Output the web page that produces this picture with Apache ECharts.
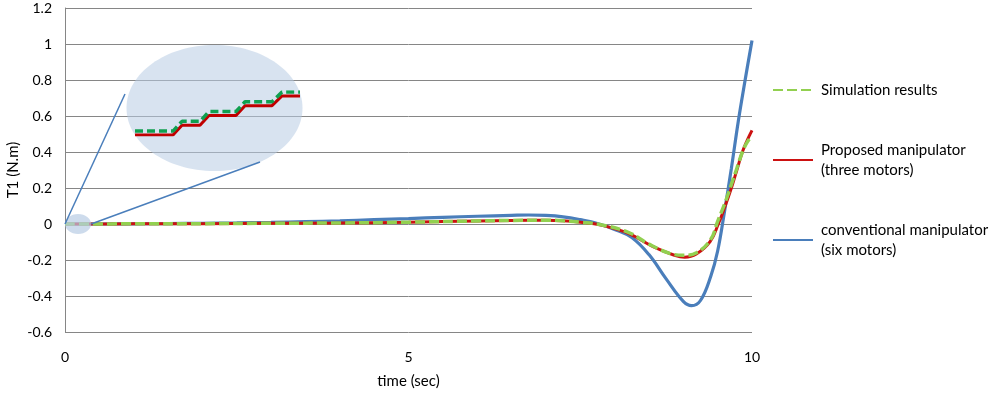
<!DOCTYPE html>
<html><head><meta charset="utf-8">
<script src="https://cdn.jsdelivr.net/npm/echarts@6/dist/echarts.min.js"></script>
<style>html,body{margin:0;padding:0;background:#fff}#c{width:1000px;height:393px}</style>
</head><body><div id="c"></div>
<script>
// ---- data ----
const xTicks = [0, 5, 10];
const yTicks = [-0.6, -0.4, -0.2, 0, 0.2, 0.4, 0.6, 0.8, 1, 1.2];
const seriesNames = ['Simulation results', 'Proposed manipulator (three motors)', 'conventional manipulator (six motors)'];

const blueX = [0, 0.5, 1, 1.5, 2, 2.5, 3, 3.5, 4, 4.5, 5, 5.5, 6, 6.5, 6.75, 7, 7.25, 7.5, 7.75, 8, 8.25, 8.5, 8.75, 9, 9.12, 9.25, 9.4, 9.5, 9.6, 9.7, 9.8, 9.9, 10];
const blueY = [0, 0, 0.001, 0.002, 0.004, 0.006, 0.009, 0.013, 0.018, 0.024, 0.030, 0.037, 0.043, 0.048, 0.050, 0.048, 0.040, 0.024, 0.003, -0.030, -0.075, -0.170, -0.305, -0.430, -0.454, -0.425, -0.29, -0.15, 0.07, 0.31, 0.57, 0.80, 1.02];

const redX = [0, 1, 2, 3, 4, 5, 6, 6.5, 7, 7.25, 7.5, 7.8, 8.2, 8.56, 8.86, 9.02, 9.19, 9.39, 9.51, 9.6, 9.7, 9.78, 9.86, 9.93, 10];
const redY = [0, 0.001, 0.002, 0.004, 0.006, 0.010, 0.017, 0.020, 0.021, 0.018, 0.010, -0.006, -0.052, -0.126, -0.172, -0.185, -0.167, -0.098, 0.0, 0.09, 0.20, 0.30, 0.40, 0.465, 0.52];

const greenX = [0, 1, 2, 3, 4, 5, 6, 6.5, 7, 7.25, 7.5, 7.8, 8.2, 8.5, 8.8, 9.0, 9.2, 9.4, 9.5, 9.6, 9.7, 9.78, 9.86, 9.93, 10];
const greenY = [0, 0.001, 0.002, 0.004, 0.006, 0.010, 0.017, 0.020, 0.021, 0.018, 0.010, -0.004, -0.046, -0.112, -0.163, -0.174, -0.158, -0.085, 0.015, 0.11, 0.22, 0.31, 0.40, 0.455, 0.49];

// inset (zoom) staircase, arbitrary units
const insetX = [0, 38, 47, 65, 74, 101, 110, 137, 147, 165];
const insetRed = [0, 0, 1, 1, 2, 2, 3, 3, 4, 4];
const insetGreen = [0.4, 0.4, 1.4, 1.4, 2.4, 2.4, 3.4, 3.4, 4.4, 4.4];

const zip = (xs, ys) => xs.map((x, i) => [x, ys[i]]);
const FONT = 'Lato';

const chart = echarts.init(document.getElementById('c'), null, {renderer: 'canvas'});
const option = {
  animation: false,
  textStyle: {fontFamily: FONT, color: '#000'},
  grid: [
    {left: 65, right: 248, top: 8, bottom: 61, containLabel: false, outerBoundsMode: 'none'},
    {left: 135, top: 92, width: 165, height: 43, containLabel: false, outerBoundsMode: 'none'}
  ],
  xAxis: [
    {type: 'value', gridIndex: 0, min: 0, max: 10, interval: 5,
     name: 'time (sec)', nameLocation: 'middle', nameGap: 42, nameMoveOverlap: false,
     nameTextStyle: {fontSize: 15, fontFamily: FONT, color: '#000'},
     axisLine: {show: false}, axisTick: {show: false}, splitLine: {show: false},
     axisLabel: {fontSize: 14, margin: 18, color: '#000', fontFamily: FONT,
       formatter: v => { const t = xTicks.find(k => Math.abs(k - v) < 1e-6); return t === undefined ? '' : String(t); }}
    },
    {type: 'value', gridIndex: 1, min: 0, max: 165, show: false}
  ],
  yAxis: [
    {type: 'value', gridIndex: 0, min: -0.6, max: 1.2, interval: 0.2,
     name: 'T1 (N.m)', nameLocation: 'middle', nameGap: 44, nameRotate: 90, nameMoveOverlap: false,
     nameTextStyle: {fontSize: 15, fontFamily: FONT, color: '#000'},
     axisLine: {show: true, lineStyle: {color: '#868686', width: 1}},
     axisTick: {show: false},
     splitLine: {show: true, lineStyle: {color: '#868686', width: 1}},
     axisLabel: {fontSize: 14, margin: 13, color: '#000', fontFamily: FONT,
       formatter: v => { const t = yTicks.find(k => Math.abs(k - v) < 1e-6); return t === undefined ? '' : String(t); }}
    },
    {type: 'value', gridIndex: 1, min: 0, max: 4.4, show: false}
  ],
  legend: {
    orient: 'vertical', left: 772, top: 80, padding: 0, itemGap: 40, itemWidth: 40, itemHeight: 14,
    data: seriesNames,
    itemStyle: {opacity: 0},
    textStyle: {fontSize: 15, fontFamily: FONT, color: '#000', lineHeight: 20, padding: [0, 0, 0, 3]},
    formatter: n => n.replace(' (', '\n(')
  },
  series: [
    {name: seriesNames[2], type: 'line', xAxisIndex: 0, yAxisIndex: 0, data: zip(blueX, blueY),
     smooth: 0.4, symbol: 'none', lineStyle: {color: '#4a7ebb', width: 3.2}, itemStyle: {color: '#4a7ebb'}, z: 2},
    {name: seriesNames[1], type: 'line', xAxisIndex: 0, yAxisIndex: 0, data: zip(redX, redY),
     smooth: 0.4, symbol: 'none', lineStyle: {color: '#cc1111', width: 3}, itemStyle: {color: '#c0504d'}, z: 3},
    {name: seriesNames[0], type: 'line', xAxisIndex: 0, yAxisIndex: 0, data: zip(greenX, greenY),
     smooth: 0.4, symbol: 'none', lineStyle: {color: '#92d050', width: 3.5, type: [10, 4]}, itemStyle: {color: '#92d050'}, z: 4},
    {name: 'inset-red', type: 'line', xAxisIndex: 1, yAxisIndex: 1, data: zip(insetX, insetRed),
     symbol: 'none', lineStyle: {color: '#c00000', width: 3}, z: 6, silent: true},
    {name: 'inset-green', type: 'line', xAxisIndex: 1, yAxisIndex: 1, data: zip(insetX, insetGreen),
     symbol: 'none', lineStyle: {color: '#10a050', width: 3.5, type: [8, 4]}, z: 7, silent: true}
  ]
};
chart.setOption(option);

// annotations: magnifier ellipses & connector lines
const p0 = chart.convertToPixel({gridIndex: 0}, [0, 0]);
const p1 = chart.convertToPixel({gridIndex: 0}, [0.19, 0]);
const p2 = chart.convertToPixel({gridIndex: 0}, [0.38, 0]);
const iTL = chart.convertToPixel({gridIndex: 1}, [0, 0]);
const iBR = chart.convertToPixel({gridIndex: 1}, [165, 4.4]);
const cx = (iTL[0] + iBR[0]) / 2 - 3, cy = 108;
chart.setOption({
  graphic: [
    {type: 'ellipse', shape: {cx: cx, cy: cy, rx: 88, ry: 63}, style: {fill: 'rgba(184,204,228,0.55)'}, z: 1, silent: true},
    {type: 'ellipse', shape: {cx: p1[0], cy: p1[1], rx: 13, ry: 10}, style: {fill: 'rgba(184,204,228,0.7)'}, z: 5, silent: true},
    {type: 'line', shape: {x1: p0[0], y1: p0[1], x2: 125, y2: 94}, style: {stroke: '#4a7ebb', lineWidth: 1.5}, z: 5, silent: true},
    {type: 'line', shape: {x1: p2[0], y1: p2[1], x2: 260, y2: 162}, style: {stroke: '#4a7ebb', lineWidth: 1.5}, z: 5, silent: true}
  ]
});
</script></body></html>
